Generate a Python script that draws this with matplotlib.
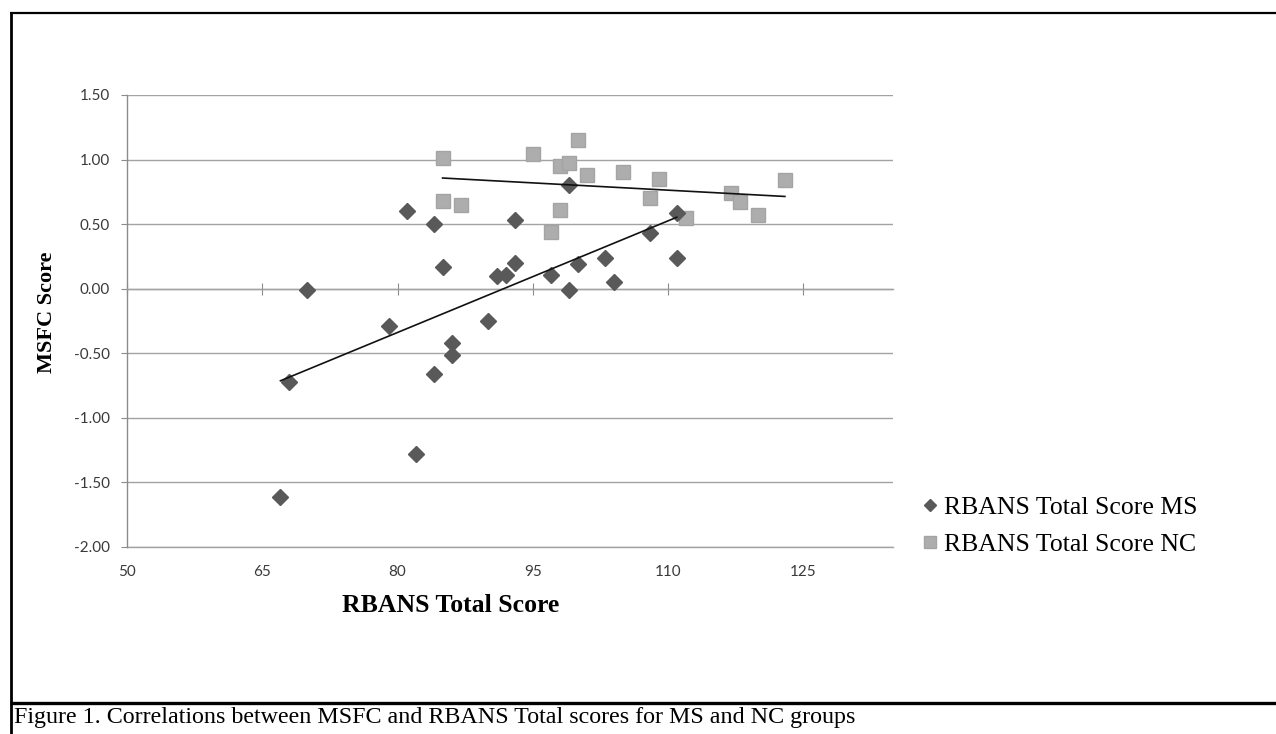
import numpy as np
import matplotlib
matplotlib.use('Agg')
import matplotlib.pyplot as plt
from matplotlib.lines import Line2D

# ---- data ----
ms_x = [67, 68, 70, 79, 81, 82, 84, 84, 85, 86, 86, 90, 91, 92, 93, 93, 97,
        99, 99, 100, 103, 104, 108, 111, 111]
ms_y = [-1.61, -0.72, -0.01, -0.29, 0.60, -1.28, 0.50, -0.66, 0.17, -0.42,
        -0.51, -0.25, 0.10, 0.11, 0.20, 0.53, 0.11, 0.80, -0.01, 0.19, 0.24,
        0.05, 0.43, 0.59, 0.24]
nc_x = [85, 85, 87, 95, 97, 98, 98, 99, 100, 101, 105, 108, 109, 112, 117,
        118, 120, 123]
nc_y = [1.01, 0.68, 0.65, 1.04, 0.44, 0.95, 0.61, 0.97, 1.15, 0.88, 0.90,
        0.70, 0.85, 0.55, 0.74, 0.67, 0.57, 0.84]
x_ticks = [50, 65, 80, 95, 110, 125]
y_ticks = [-2.0, -1.5, -1.0, -0.5, 0.0, 0.5, 1.0, 1.5]
series_labels = ["RBANS Total Score MS", "RBANS Total Score NC"]
x_label = "RBANS Total Score"
y_label = "MSFC Score"
caption = "Figure 1. Correlations between MSFC and RBANS Total scores for MS and NC groups"

W, H = 1276, 734
fig = plt.figure(figsize=(W / 100, H / 100), dpi=100)
fig.patch.set_facecolor('white')

L, R, T, B = 127.3, 893, 95, 547
ax = fig.add_axes([L / W, 1 - B / H, (R - L) / W, (B - T) / H])
ax.set_xlim(50, 135)
ax.set_ylim(-2.0, 1.5)

grid_c = '#a3a3a3'
for v in y_ticks:
    ax.axhline(v, color=grid_c, lw=1.0, zorder=1)

# spines
for s in ['top', 'right']:
    ax.spines[s].set_visible(False)
ax.spines['left'].set_color('#8c8c8c')
ax.spines['left'].set_linewidth(1.0)
ax.spines['bottom'].set_position(('data', 0))
ax.spines['bottom'].set_color(grid_c)
ax.spines['bottom'].set_linewidth(1.0)

ax.set_yticks(y_ticks)
ax.set_yticklabels([f"{v:.2f}" for v in y_ticks])
ax.tick_params(axis='y', direction='out', length=4.5, width=0.8,
               color='#8c8c8c', labelsize=11, labelcolor='#3a3a3a', pad=8)
ax.set_xticks(x_ticks)
ax.tick_params(axis='x', direction='inout', length=9, width=0.8,
               color='#8c8c8c', labelbottom=False)

sec = ax.secondary_xaxis(0.0)
sec.set_xticks(x_ticks)
sec.set_xticklabels([str(v) for v in x_ticks])
sec.tick_params(length=0, labelsize=11, labelcolor='#3a3a3a', pad=13)
sec.spines['bottom'].set_color(grid_c)
sec.spines['bottom'].set_linewidth(1.0)

for lab in ax.get_yticklabels() + sec.get_xticklabels():
    lab.set_family('Lato')

# points
h_ms, = ax.plot(ms_x, ms_y, linestyle='none', marker='D', ms=7.8,
                mfc='#595959', mec='#595959', zorder=4)
h_nc, = ax.plot(nc_x, nc_y, linestyle='none', marker='s', ms=10,
                mfc='#adadad', mec='#a4a4a4', zorder=3)

# linear trend lines
for xs, ys in [(ms_x, ms_y), (nc_x, nc_y)]:
    k, b = np.polyfit(xs, ys, 1)
    xx = np.array([min(xs), max(xs)])
    ax.plot(xx, k * xx + b, color='#111111', lw=1.2, zorder=5)

# axis titles
fig.text(451 / W, 1 - 606 / H, x_label, ha='center', va='center',
         family='Liberation Serif', weight='bold', fontsize=18.5)
fig.text(47 / W, 1 - 312 / H, y_label, ha='center', va='center',
         rotation=90, family='Liberation Serif', weight='bold', fontsize=16)

# legend
leg = fig.legend([h_ms, h_nc], series_labels, loc='center left',
                 bbox_to_anchor=(922 / W, 1 - 526 / H), frameon=False,
                 prop={'family': 'Liberation Serif', 'size': 18.5},
                 handlelength=0.6, handletextpad=0.25, markerscale=0.8,
                 labelspacing=0.58, borderpad=0, borderaxespad=0)

# caption
fig.text(14 / W, 1 - 718 / H, caption, ha='left', va='center',
         family='Liberation Serif', fontsize=17.3)

# document frame lines
def fline(x0, y0, x1, y1, lw):
    fig.add_artist(Line2D([x0 / W, x1 / W], [1 - y0 / H, 1 - y1 / H],
                          transform=fig.transFigure, color='black', lw=lw,
                          solid_capstyle='butt'))

fline(10, 12.5, W, 12.5, 1.6)
fline(11, 12, 11, H, 2.0)
fline(10, 703, W, 703, 2.4)

fig.savefig('out.png', dpi=100, facecolor='white')
